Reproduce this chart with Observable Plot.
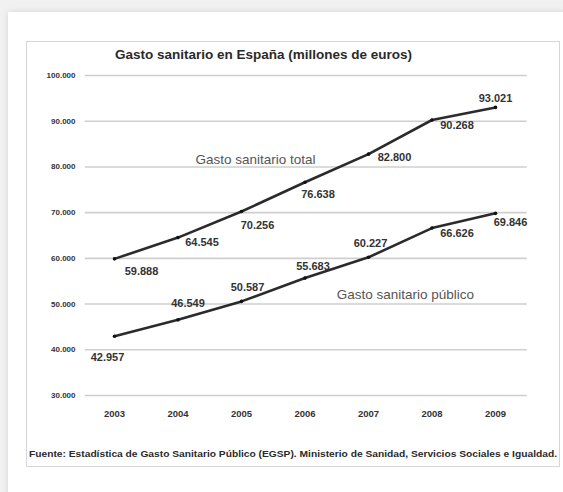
<!DOCTYPE html>
<html>
<head>
<meta charset="utf-8">
<script src="https://cdn.jsdelivr.net/npm/d3@7"></script>
<script src="https://cdn.jsdelivr.net/npm/@observablehq/plot@0.6"></script>
<style>
  html, body { margin: 0; padding: 0; }
  body { width: 563px; height: 492px; background: #f1f1f1; position: relative; overflow: hidden; font-family: "Liberation Sans", Arial, sans-serif; }
  #card { position: absolute; left: 8px; top: 12px; width: 560px; height: 490px; background: #fff; box-shadow: 0 0 6px rgba(0,0,0,0.12); }
  #box { position: absolute; left: 26px; top: 41px; width: 532px; height: 424px; border: 1px solid #d6d6d6; }
  #title { position: absolute; left: 115px; top: 47px; font-weight: bold; font-size: 13.5px; color: #2a2a2a; white-space: nowrap; }
  #chart { position: absolute; left: 0; top: 0; }
  #caption { position: absolute; left: 29px; top: 449px; font-weight: bold; font-size: 9px; color: #2a2a2a; white-space: nowrap; transform-origin: 0 50%; }
</style>
</head>
<body>
<div id="card"></div>
<div id="box"></div>
<div id="chart"></div>
<div id="title">Gasto sanitario en España (millones de euros)</div>
<div id="caption">Fuente: Estadística de Gasto Sanitario Público (EGSP). Ministerio de Sanidad, Servicios Sociales e Igualdad.</div>
<script>
const years = [2003, 2004, 2005, 2006, 2007, 2008, 2009];
const totalValues = [59888, 64545, 70256, 76638, 82800, 90268, 93021];
const publicValues = [42957, 46549, 50587, 55683, 60227, 66626, 69846];
const yTicks = [30000, 40000, 50000, 60000, 70000, 80000, 90000, 100000];
const seriesNames = ["Gasto sanitario total", "Gasto sanitario público"];

// label placement (pixel offsets from each point)
const totalLabelDx = [27, 24, 16, 13, 26, 25, 0];
const totalLabelDy = [13, 5, 14, 12, 3, 5, -9];
const publicLabelDx = [-7, 10, 6, 8, 2, 25, 15];
const publicLabelDy = [21, -16, -14, -12, -14, 5, 9];
// series-name annotation positions (data coordinates)
const seriesLabelX = [2005.22, 2007.58];
const seriesLabelY = [81600, 52100];

const fmt = d3.format(",");
const es = v => fmt(v).replace(/,/g, ".");

const total = years.map((y, i) => ({year: y, value: totalValues[i], dx: totalLabelDx[i], dy: totalLabelDy[i]}));
const pub = years.map((y, i) => ({year: y, value: publicValues[i], dx: publicLabelDx[i], dy: publicLabelDy[i]}));
const seriesLabels = seriesNames.map((n, i) => ({name: n, x: seriesLabelX[i], y: seriesLabelY[i]}));

const labelMarks = data => data.map(d => Plot.text([d], {
  x: "year", y: "value", text: v => es(v.value), dx: d.dx, dy: d.dy,
  fontWeight: "bold", fontSize: 11, fill: "#333"
}));

const chart = Plot.plot({
  width: 563,
  height: 430,
  marginLeft: 83,
  marginRight: 36,
  marginTop: 75,
  marginBottom: 35,
  style: {background: "transparent", fontFamily: "Liberation Sans, Arial, sans-serif"},
  x: {domain: [2003, 2009], range: [114, 495]},
  y: {domain: [30000, 100000], range: [395, 75]},
  marks: [
    Plot.ruleY(yTicks, {x1: 2002.54, x2: 2009.5, stroke: "#cfcfcf", strokeWidth: 1.6}),
    Plot.axisY(yTicks, {tickSize: 0, tickPadding: 8, tickFormat: es, fontSize: 8, fontWeight: "bold", fill: "#333", label: null}),
    Plot.axisX(years, {tickSize: 0, tickPadding: 15, tickFormat: d => String(d), fontSize: 9.5, fontWeight: "bold", fill: "#333", label: null}),
    Plot.line(total, {x: "year", y: "value", stroke: "#2b2b2b", strokeWidth: 2.6}),
    Plot.line(pub, {x: "year", y: "value", stroke: "#2b2b2b", strokeWidth: 2.6}),
    Plot.dot(total, {x: "year", y: "value", r: 1.8, fill: "#111"}),
    Plot.dot(pub, {x: "year", y: "value", r: 1.8, fill: "#111"}),
    ...labelMarks(total),
    ...labelMarks(pub),
    Plot.text(seriesLabels, {x: "x", y: "y", text: "name", fontSize: 13.5, fill: "#555"})
  ]
});
document.getElementById("chart").appendChild(chart);

// stretch caption to the reference's width
const cap = document.getElementById("caption");
const w = cap.getBoundingClientRect().width;
cap.style.transform = `scaleX(${528 / w})`;
</script>
</body>
</html>
